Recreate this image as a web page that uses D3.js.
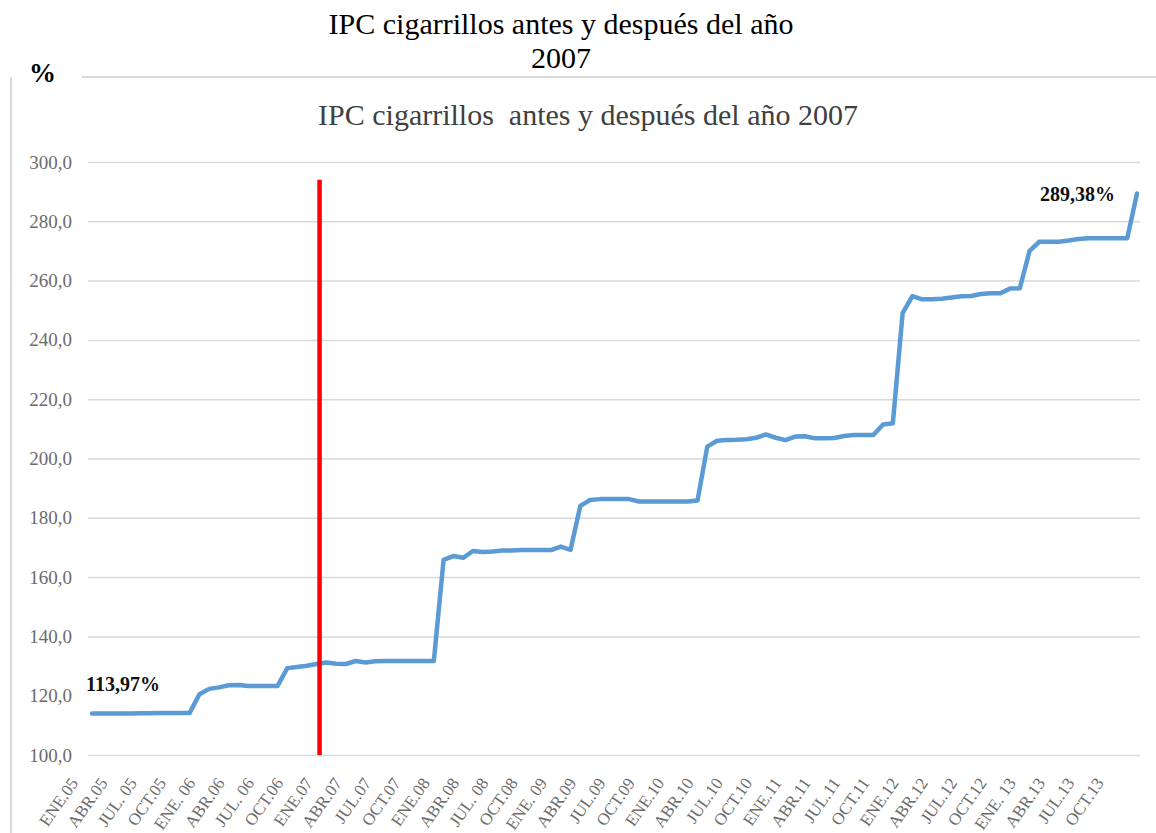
<!DOCTYPE html>
<html>
<head>
<meta charset="utf-8">
<script src="https://cdn.jsdelivr.net/npm/d3@7"></script>
<style>
  body { margin: 0; background: #fff; }
  svg { display: block; }
  text { font-family: "Liberation Serif", "DejaVu Serif", serif; }
</style>
</head>
<body>
<script>
'use strict';

// IPC cigarrillos, monthly, ENE.05 .. DIC.13
const ipcValues = [
  113.97, 113.97, 113.97, 113.97, 114.0, 114.1, 114.1, 114.2, 114.2, 114.2, 114.2, 120.5,
  122.3, 122.8, 123.5, 123.6, 123.3, 123.3, 123.3, 123.3, 129.3, 129.7, 130.1, 130.7,
  131.2, 130.8, 130.7, 131.7, 131.2, 131.6, 131.7, 131.7, 131.7, 131.7, 131.7, 131.7,
  165.8, 167.1, 166.5, 168.8, 168.5, 168.6, 169.0, 169.0, 169.1, 169.1, 169.1, 169.1,
  170.3, 169.2, 184.0, 186.0, 186.3, 186.3, 186.3, 186.3, 185.5, 185.5, 185.5, 185.5,
  185.5, 185.5, 185.8, 204.0, 206.0, 206.2, 206.3, 206.5, 207.0, 208.1, 207.0, 206.2,
  207.4, 207.5, 206.8, 206.8, 206.9, 207.6, 207.9, 207.9, 207.9, 211.5, 211.9, 249.0,
  254.8, 253.7, 253.7, 253.9, 254.3, 254.7, 254.8, 255.5, 255.7, 255.7, 257.3, 257.4,
  270.0, 273.1, 273.1, 273.1, 273.5, 274.0, 274.3, 274.3, 274.3, 274.3, 274.3, 289.38
];

// one label every three months
const tickLabels = [
  'ENE.05', 'ABR.05', 'JUL. 05', 'OCT.05', 'ENE. 06', 'ABR.06', 'JUL. 06', 'OCT.06',
  'ENE.07', 'ABR.07', 'JUL.07', 'OCT.07', 'ENE.08', 'ABR.08', 'JUL. 08', 'OCT.08',
  'ENE. 09', 'ABR.09', 'JUL.09', 'OCT.09', 'ENE.10', 'ABR.10', 'JUL.10', 'OCT.10',
  'ENE.11', 'ABR.11', 'JUL.11', 'OCT.11', 'ENE.12', 'ABR.12', 'JUL.12', 'OCT.12',
  'ENE. 13', 'ABR.13', 'JUL.13', 'OCT.13'
];

const yTicks = [100, 120, 140, 160, 180, 200, 220, 240, 260, 280, 300];

// red divider at the start of 2007 (month index, top value)
const cutMonth = 23.3;
const cutTop = 294;

const firstLabel = '113,97%';
const lastLabel = '289,38%';

let svg = d3.select('body')
  .append('svg')
  .attr('width', 1156)
  .attr('height', 833);

let xScale = d3.scaleLinear()
  .domain([0, ipcValues.length - 1])
  .range([92, 1137]);

let yScale = d3.scaleLinear()
  .domain([100, 300])
  .range([755, 162]);

drawFrame();
drawAxes();
drawLine();
drawLabels();

// outer frame and the two titles
function drawFrame() {
  svg.append('line')
    .attr('x1', 82).attr('x2', 1156)
    .attr('y1', 77).attr('y2', 77)
    .attr('stroke', '#d9d9d9')
    .attr('stroke-width', 2);

  svg.append('line')
    .attr('x1', 11).attr('x2', 11)
    .attr('y1', 77).attr('y2', 833)
    .attr('stroke', '#d9d9d9')
    .attr('stroke-width', 2);

  svg.append('text')
    .attr('x', 561).attr('y', 34)
    .attr('text-anchor', 'middle')
    .style('font-size', '30px')
    .attr('fill', '#000')
    .text('IPC cigarrillos antes y después del año');

  svg.append('text')
    .attr('x', 561).attr('y', 68)
    .attr('text-anchor', 'middle')
    .style('font-size', '30px')
    .attr('fill', '#000')
    .text('2007');

  svg.append('text')
    .attr('x', 29).attr('y', 82)
    .style('font-size', '27px')
    .style('font-weight', 'bold')
    .attr('fill', '#000')
    .text('%');

  svg.append('text')
    .attr('x', 588).attr('y', 125)
    .attr('text-anchor', 'middle')
    .style('font-size', '30px')
    .style('white-space', 'pre')
    .attr('fill', '#404040')
    .text('IPC cigarrillos  antes y después del año 2007');
}

function drawAxes() {
  let yAxis = d3.axisLeft(yScale)
    .tickValues(yTicks)
    .tickSize(-(1140 - 88))
    .tickPadding(16)
    .tickFormat(d => d.toFixed(1).replace('.', ','));

  let g = svg.append('g')
    .attr('transform', 'translate(88, 0)')
    .call(yAxis);

  g.select('.domain').remove();
  g.selectAll('.tick line')
    .attr('stroke', '#d9d9d9')
    .attr('stroke-width', 1.5)
    .attr('opacity', d => d == 120 ? 0 : 1);
  g.selectAll('.tick text')
    .attr('fill', '#6b6b6b')
    .style('font-size', '19px');

  // category labels, rotated
  svg.append('g')
    .selectAll('text')
    .data(tickLabels)
    .enter()
    .append('text')
      .attr('transform', (d, i) => 'translate(' + (xScale(i * 3) - 13) + ', 783) rotate(-55)')
      .attr('text-anchor', 'end')
      .style('font-size', '17px')
      .attr('fill', '#6b6b6b')
      .text(d => d);
}

function drawLine() {
  let line = d3.line()
    .x((d, i) => xScale(i))
    .y(d => yScale(d));

  svg.append('path')
    .datum(ipcValues)
    .attr('d', line)
    .attr('fill', 'none')
    .attr('stroke', '#5b9bd5')
    .attr('stroke-width', 4.5)
    .attr('stroke-linejoin', 'round')
    .attr('stroke-linecap', 'round');

  svg.append('line')
    .attr('x1', xScale(cutMonth)).attr('x2', xScale(cutMonth))
    .attr('y1', yScale(cutTop)).attr('y2', yScale(100))
    .attr('stroke', '#ff0000')
    .attr('stroke-width', 4.5);
}

function drawLabels() {
  svg.append('text')
    .attr('x', 86).attr('y', 691)
    .style('font-size', '20px')
    .style('font-weight', 'bold')
    .attr('fill', '#111')
    .text(firstLabel);

  svg.append('text')
    .attr('x', 1040).attr('y', 201)
    .style('font-size', '20px')
    .style('font-weight', 'bold')
    .attr('fill', '#111')
    .text(lastLabel);
}
</script>
</body>
</html>
